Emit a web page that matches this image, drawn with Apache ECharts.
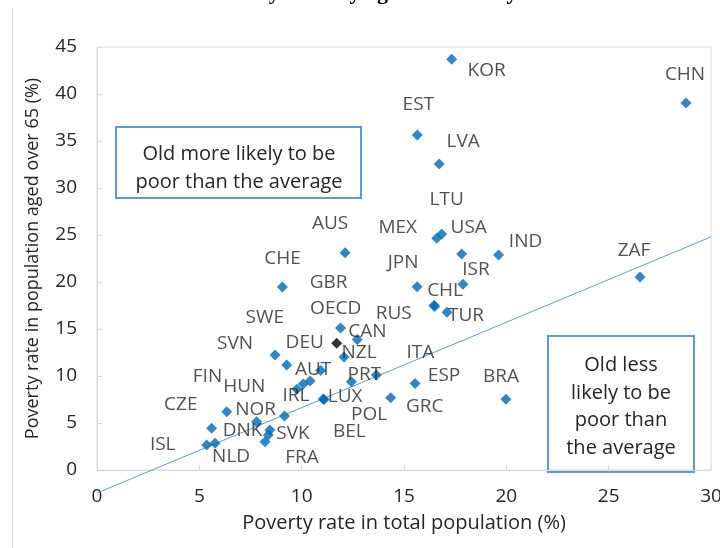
<!DOCTYPE html>
<html>
<head>
<meta charset="utf-8">
<script src="https://cdn.jsdelivr.net/npm/echarts@6/dist/echarts.min.js"></script>
<style>
html,body{margin:0;padding:0;background:#fff;}
#chart{width:720px;height:548px;}
</style>
</head>
<body>
<div id="chart"></div>
<script>
// ---------- data ----------
const countries = ['KOR','CHN','EST','LVA','LTU','MEX','USA','IND','AUS','ZAF','CHE','JPN','ISR','CHL','TUR','RUS',
  'GBR','OECD','CAN','NZL','SVN','SWE','DEU','AUT','HUN','IRL','FIN','PRT','ITA','ESP','GRC','BRA','LUX','POL',
  'CZE','DNK','ISL','NLD','NOR','SVK','BEL','FRA'];
const povertyTotal = [17.33,28.78,15.65,16.72,16.84,16.60,17.82,19.62,12.12,26.53,9.06,15.64,17.88,16.47,17.10,16.50,
  11.90,11.71,12.72,12.07,8.70,9.27,10.93,10.41,10.08,9.77,9.16,12.43,13.65,15.54,14.35,19.98,11.05,11.10,
  6.34,5.60,5.36,5.77,7.80,8.45,8.37,8.21];
const povertyOld65 = [43.69,39.04,35.64,32.55,25.11,24.65,22.98,22.87,23.12,20.53,19.47,19.50,19.76,17.52,16.78,17.40,
  15.11,13.48,13.88,12.02,12.23,11.17,10.59,9.47,9.15,8.60,5.74,9.39,10.11,9.20,7.69,7.53,7.55,7.50,
  6.20,4.44,2.66,2.84,5.14,4.26,3.72,3.01];
const highlighted = 'OECD';
const trendX = [0, 30];
const trendY = [-2.45, 24.8];
const xTicks = [0,5,10,15,20,25,30];
const yTicks = [0,5,10,15,20,25,30,35,40,45];
const boxTextAbove = ['Old more likely to be','poor than the average'];
const boxTextBelow = ['Old less','likely to be','poor than','the average'];
const titleText = 'Poverty rates by age and country';

// ---------- label placement (pixel offsets from marker) ----------
const labelOffset = {
  KOR:[35,11], CHN:[-1,-28], EST:[1,-30], LVA:[24,-22], LTU:[5,-34], MEX:[-39,-11], USA:[7,-26], IND:[27,-13],
  AUS:[-15,-29], ZAF:[-6,-26], CHE:[0,-28], JPN:[-14,-24], ISR:[13,-15], CHL:[11,-15], TUR:[19,3], RUS:[-41,7],
  GBR:[-12,-45], OECD:[-1,-35], CAN:[10,-8], NZL:[15,-4], SVN:[-40,-11], SWE:[-22,-47], DEU:[-16,-28], AUT:[3,-11],
  HUN:[-59,3], IRL:[-1,6], FIN:[-77,-39], PRT:[13,-7], ITA:[44,-22], ESP:[29,-8], GRC:[34,9], BRA:[-5,-23],
  LUX:[22,-2], POL:[45,15], CZE:[-46,-7], DNK:[31,2], ISL:[-44,0], NLD:[16,13], NOR:[-1,-12], SVK:[23,4],
  BEL:[81,-3], FRA:[37,16]
};

const FONT = 'Open Sans';
const TXT = '#262626';

const scatterData = countries.map((c, i) => ({
  name: c,
  value: [povertyTotal[i], povertyOld65[i]],
  itemStyle: c === highlighted ? { color: '#000000' } : undefined,
  label: { offset: labelOffset[c] || [0, 0] }
}));
const trendData = trendX.map((x, i) => [x, trendY[i]]);

const chart = echarts.init(document.getElementById('chart'), null, { renderer: 'canvas' });

const option = {
  animation: false,
  backgroundColor: '#ffffff',
  textStyle: { fontFamily: FONT },
  grid: { left: 97, right: 9, top: 47, bottom: 78, show: true, borderColor: '#D9D9D9', borderWidth: 1,
          backgroundColor: 'transparent', containLabel: false, outerBoundsMode: 'none' },
  xAxis: {
    type: 'value', min: xTicks[0], max: xTicks[xTicks.length - 1], interval: 5,
    axisLine: { show: true, lineStyle: { color: '#D9D9D9' } },
    axisTick: { show: true, inside: true, length: 5, lineStyle: { color: '#D9D9D9' } },
    splitLine: { show: false },
    axisLabel: { fontSize: 19, color: TXT, margin: 17, fontFamily: FONT },
    name: 'Poverty rate in total population (%)', nameLocation: 'middle', nameGap: 43,
    nameTextStyle: { fontSize: 20, color: TXT, fontFamily: FONT }
  },
  yAxis: {
    type: 'value', min: yTicks[0], max: yTicks[yTicks.length - 1], interval: 5,
    axisLine: { show: true, lineStyle: { color: '#D9D9D9' } },
    axisTick: { show: true, inside: true, length: 5, lineStyle: { color: '#D9D9D9' } },
    splitLine: { show: false },
    axisLabel: { fontSize: 19, color: TXT, margin: 20, fontFamily: FONT },
    name: 'Poverty rate in population aged over 65 (%)', nameLocation: 'middle', nameGap: 55,
    nameTextStyle: { fontSize: 18, color: TXT, fontFamily: FONT }
  },
  series: [
    {
      type: 'line', data: trendData, symbol: 'none', clip: false, silent: true, z: 1,
      lineStyle: { color: '#5B9BD5', width: 1 }
    },
    {
      type: 'scatter', data: scatterData, symbol: 'diamond', symbolSize: 11, z: 3,
      itemStyle: { color: '#0068B5' },
      label: { show: true, position: 'inside', formatter: '{b}', fontSize: 19, color: TXT, fontFamily: FONT }
    }
  ],
  graphic: [
    { type: 'line', shape: { x1: 12.5, y1: 8, x2: 12.5, y2: 548 }, style: { stroke: '#D9D9D9', lineWidth: 1 }, silent: true },
    { type: 'text', x: 362, y: -18, style: { text: titleText, font: 'bold 22px "Liberation Serif"', fill: '#000', align: 'center', verticalAlign: 'top' }, silent: true },
    { type: 'rect', shape: { x: 116, y: 127, width: 245, height: 71 }, style: { fill: 'transparent', stroke: '#5B9BD5', lineWidth: 2 }, silent: true },
    { type: 'text', x: 239, y: 168, style: { text: boxTextAbove.join('\n'), fontSize: 20, fontFamily: FONT, fill: TXT, align: 'center', verticalAlign: 'middle', lineHeight: 28 }, silent: true },
    { type: 'rect', shape: { x: 548, y: 336, width: 146, height: 136 }, style: { fill: 'transparent', stroke: '#5B9BD5', lineWidth: 2 }, silent: true },
    { type: 'text', x: 621, y: 407, style: { text: boxTextBelow.join('\n'), fontSize: 20, fontFamily: FONT, fill: TXT, align: 'center', verticalAlign: 'middle', lineHeight: 27.5 }, silent: true }
  ]
};
chart.setOption(option);
</script>
</body>
</html>
